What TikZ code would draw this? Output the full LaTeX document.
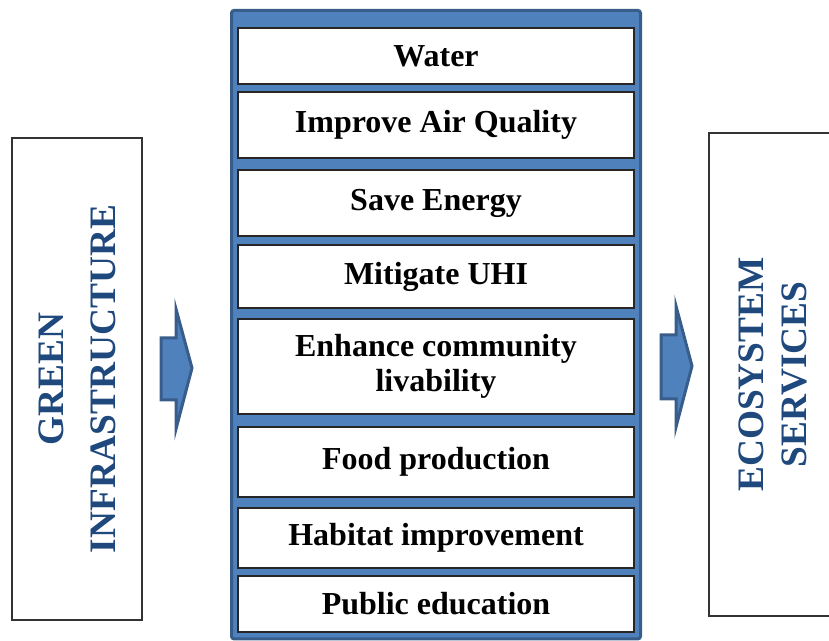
\documentclass[tikz,border=0pt]{standalone}
\usepackage{fontspec}
\setmainfont{Liberation Serif}
\usetikzlibrary{positioning}

\definecolor{panelblue}{HTML}{4F81BD}
\definecolor{paneledge}{HTML}{385D8A}
\definecolor{labelblue}{HTML}{1F497D}

\begin{document}
\begin{tikzpicture}[
    x=0.75pt, y=-0.75pt,
    item/.style={rectangle, draw=black!85, line width=1pt, fill=white, minimum width=297pt, align=center, inner sep=2pt, font=\fontsize{24}{26.25}\selectfont\bfseries},
    sidebox/.style={rectangle, draw=black!80, line width=0.9pt, fill=white, rotate=90, align=center, text=labelblue},
    panel/.style={rectangle, draw=paneledge, fill=panelblue, line width=2.25pt, rounded corners=2pt},
    blockarrow/.style={draw=paneledge, fill=panelblue, line width=2.25pt, line join=miter}
]
\useasboundingbox (0,0) rectangle (829,641);

% Side boxes
\node[sidebox, minimum width=361.5pt, minimum height=97.5pt, font=\fontsize{28}{39}\selectfont\bfseries] (green) at (77,379) {GREEN\\INFRASTRUCTURE};
\node[sidebox, minimum width=362.25pt, minimum height=96pt, font=\fontsize{28}{32}\selectfont\bfseries] (ecosystem) at (773,374.5) {ECOSYSTEM\\SERVICES};

% Panel
\node[panel, minimum width=306.75pt, minimum height=471.4pt] (services) at (436,324.7) {};

% Items
\node[item, minimum height=42pt] (water) at (436,56) {Water};
\node[item, minimum height=49.5pt] (air) at (436,125) {Improve Air Quality};
\node[item, minimum height=49.5pt] (energy) at (436,203) {Save Energy};
\node[item, minimum height=47.25pt] (uhi) at (436,276.5) {Mitigate UHI};
\node[item, minimum height=71.25pt] (livability) at (436,366.5) {Enhance community\\livability};
\node[item, minimum height=52.5pt] (food) at (436,462) {Food production};
\node[item, minimum height=45pt] (habitat) at (436,538) {Habitat improvement};
\node[item, minimum height=42pt] (education) at (436,604) {Public education};

% Arrows
\draw[blockarrow] (161,338) -- (176,338) -- (176,309) -- (192,368) -- (176,429) -- (176,400) -- (161,400) -- cycle;
\draw[blockarrow] (661,335) -- (676,335) -- (676,306) -- (692,366) -- (676,427) -- (676,399) -- (661,399) -- cycle;

\end{tikzpicture}
\end{document}
